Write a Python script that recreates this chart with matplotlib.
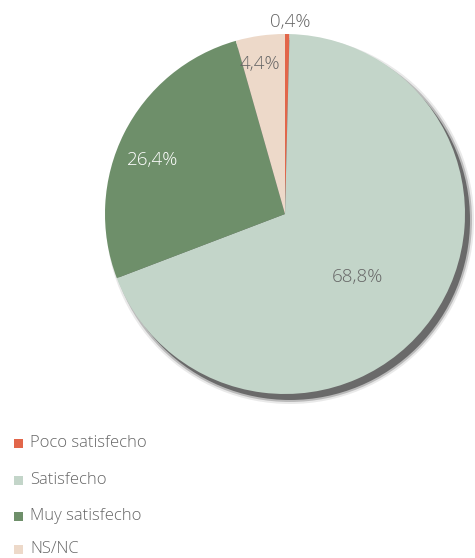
import matplotlib.pyplot as plt
from matplotlib.patches import Circle, Rectangle

# Satisfaction survey shares, clockwise from 12 o'clock
categories = ['Poco satisfecho', 'Satisfecho', 'Muy satisfecho', 'NS/NC']
values = [0.4, 68.8, 26.4, 4.4]
colors = ['#e2664a', '#c3d5c9', '#6e8f6a', '#edd9c9']
label_colors = ['#666666', '#666666', '#ffffff', '#666666']

W, H = 475, 558
cx, cy, r = 285, H - 214, 180

# label anchor points (pixels, from top-left)
label_pos = [(290, 22), (357, 277), (153, 160), (260, 64)]

plt.rcParams['font.family'] = ['Open Sans', 'DejaVu Sans']

fig = plt.figure(figsize=(W / 100, H / 100), dpi=100)
ax = fig.add_axes([0, 0, 1, 1])

# soft drop shadow under the pie
for grow, alpha in [(4, 0.12), (2, 0.3), (0, 0.75)]:
    ax.add_patch(Circle((cx + 5, cy - 6), r + grow, color='#4f4f4f',
                        alpha=alpha, lw=0, zorder=1))

wedges, _ = ax.pie(values, colors=colors, startangle=90, counterclock=False,
                   center=(cx, cy), radius=r, frame=True,
                   wedgeprops=dict(linewidth=0))
for w in wedges:
    w.set_zorder(2)
ax.set_xlim(0, W)
ax.set_ylim(0, H)
ax.axis('off')

for v, (x, y), c in zip(values, label_pos, label_colors):
    ax.text(x, H - y, f'{v:.1f}%'.replace('.', ','), ha='center', va='center',
            fontsize=13.5, fontweight='light', color=c, zorder=3)

# legend at the bottom left
rows = [443, 480, 516, 549]
for name, col, y in zip(categories, colors, rows):
    ax.add_patch(Rectangle((14, H - y - 4.5), 9, 9, color=col, lw=0))
    ax.text(30, H - y, name, ha='left', va='center', fontsize=12,
            fontweight='light', color='#666666')

fig.savefig('out.png', dpi=100)
